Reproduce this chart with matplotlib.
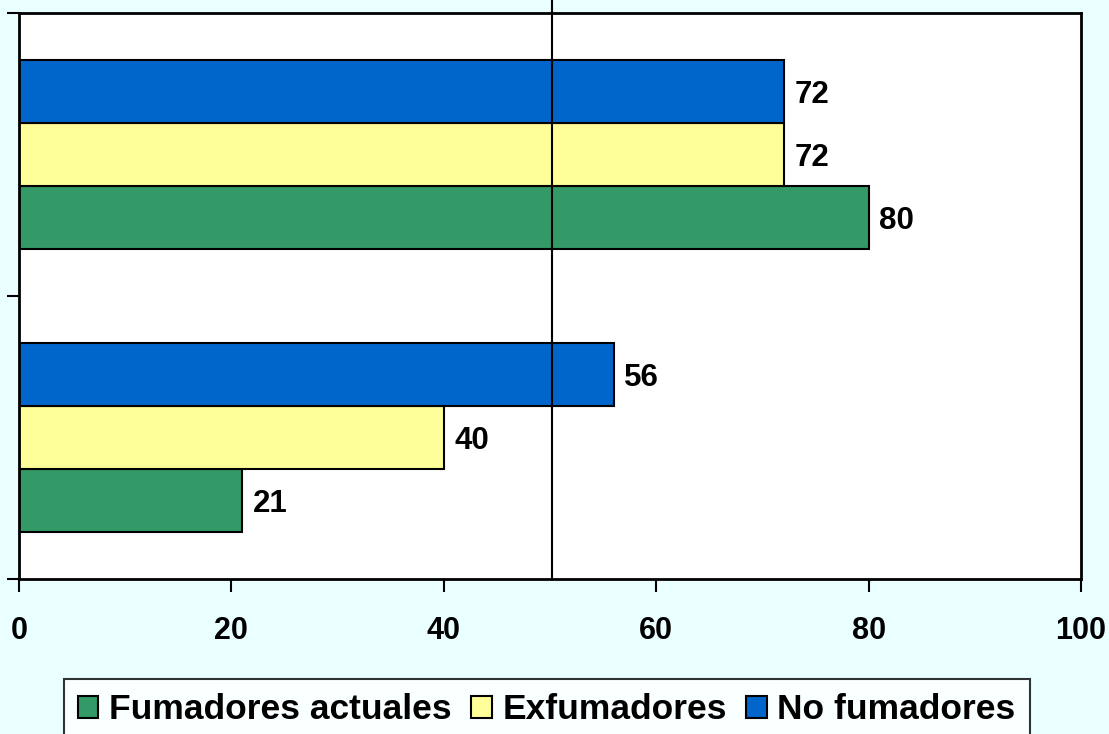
import matplotlib.pyplot as plt
import numpy as np

# Bar values per group (bottom group first, top group second)
categories = ["Grupo 1", "Grupo 2"]
series_names = ["Fumadores actuales", "Exfumadores", "No fumadores"]
fumadores_actuales = [21, 80]
exfumadores = [40, 72]
no_fumadores = [56, 72]
x_ticks = [0, 20, 40, 60, 80, 100]

colors = ["#339966", "#FFFF99", "#0066CC"]
bg = "#EAFFFF"

plt.rcParams['font.family'] = ['Liberation Sans', 'DejaVu Sans']

fig = plt.figure(figsize=(11.09, 7.34), dpi=100, facecolor=bg)
ax = fig.add_axes([0.0171, 0.2112, 0.9577, 0.7711])
ax.set_facecolor("white")

y = np.arange(len(categories))
h = 0.223
values = [fumadores_actuales, exfumadores, no_fumadores]
offsets = [-h, 0, h]
handles = []
for vals, off, col, name in zip(values, offsets, colors, series_names):
    bars = ax.barh(y + off, vals, height=h, color=col, edgecolor="black",
                   linewidth=1.5, label=name)
    handles.append(bars)
    for yy, v in zip(y + off, vals):
        ax.text(v + 1.0, yy - 0.012, f"{v}", va="center", ha="left",
                fontsize=22.5, fontweight="bold")

# reference line at 50 running above the plot area
ax.plot([50.2, 50.2], [-0.5, 1.5 + 13 / 283 * 2], color="black",
        linewidth=1.5, clip_on=False, zorder=5)

ax.set_xlim(0, 100)
ax.set_ylim(-0.5, 1.5)
ax.set_xticks(x_ticks)
ax.set_xticklabels([str(t) for t in x_ticks], fontsize=22, fontweight="bold")
ax.set_yticks([-0.5, 0.5, 1.5])
ax.set_yticklabels([])
ax.tick_params(axis="x", direction="out", length=9, width=1.5, pad=18)
ax.tick_params(axis="y", direction="out", length=9, width=1.5)
for s in ax.spines.values():
    s.set_linewidth(2)
    s.set_color("black")

leg = fig.legend(handles=handles, loc="upper center",
                 bbox_to_anchor=(0.493, 0.0749), ncol=3, frameon=True,
                 fancybox=False, edgecolor="black", facecolor="white",
                 prop={"size": 25.5, "weight": "bold"}, handlelength=0.58,
                 handleheight=0.58, handletextpad=0.3, columnspacing=0.55,
                 borderpad=0.4, borderaxespad=0)
leg.get_frame().set_linewidth(1.5)

fig.savefig("out.png", dpi=100, facecolor=bg)
